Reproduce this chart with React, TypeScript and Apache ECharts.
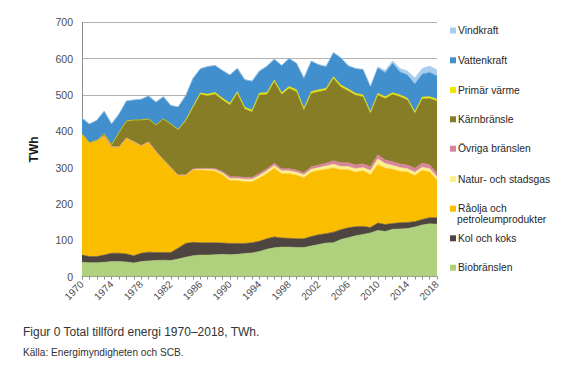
import React, { useEffect, useRef } from "react";
import * as echarts from "echarts";

const years: string[] = [];
for (let y = 1970; y <= 2018; y++) years.push(String(y));

const bioValues = [39,38,38,39,41,41,40,37,41,43,44,45,44,48,53,57,59,59,60,61,60,61,63,65,69,75,79,81,81,80,80,84,88,92,93,102,107,112,116,120,127,124,130,131,132,136,142,145,144];
const kolValues = [20,17,17,20,23,23,22,20,23,24,22,21,22,30,38,37,34,34,33,31,31,30,28,28,28,29,30,25,24,24,24,26,27,26,29,27,27,25,22,15,20,19,16,17,17,15,15,17,18];
const oljaValues = [333,313,319,328,293,292,319,314,296,303,278,255,234,201,188,199,200,199,197,188,173,173,170,168,174,179,189,177,178,175,168,177,177,177,177,165,160,150,153,145,161,155,149,141,139,127,135,126,104];
const gasValues = [0,0,0,0,0,0,0,0,0,0,0,0,0,0,0,1,2,3,4,5,6,6,7,7,7,8,8,8,8,8,8,8,8,9,10,9,9,10,9,12,16,13,11,11,9,9,9,9,8];
const ovrigaValues = [0,0,0,0,0,0,0,0,0,0,0,0,0,0,0,2,3,3,3,4,5,5,5,5,6,6,6,6,6,6,6,7,7,8,10,10,10,10,10,10,11,10,10,10,10,11,11,11,10];
const karnValues = [0,0,0,6,6,40,47,60,71,64,73,113,120,125,149,169,203,199,205,197,197,229,188,180,216,204,224,204,221,216,172,202,202,201,226,209,198,192,185,147,164,169,185,185,179,151,177,182,199];
const varmeValues = [0,0,0,0,0,0,0,0,0,0,0,0,0,1,2,3,4,5,5,5,5,5,5,5,5,5,5,5,5,5,5,5,5,5,5,5,5,5,5,5,5,5,5,5,5,5,5,5,5];
const vattenValues = [44,52,56,62,57,51,55,55,57,63,63,61,51,62,67,77,67,76,74,76,78,64,76,80,61,73,57,75,77,73,83,84,69,60,66,75,64,68,69,68,70,66,81,63,64,76,63,67,64];
const vindValues = [0,0,0,0,0,0,0,0,0,0,0,0,0,0,0,0,0,0,0,0,0,0,0,0,0,0,0,0.2,0.3,0.4,0.5,0.5,0.6,0.6,0.9,0.9,1,1.4,2,2.5,3.5,6.1,7.2,9.8,11.2,16.3,15.5,17.6,16.6];

const yTicks = [0, 100, 200, 300, 400, 500, 600, 700];

const seriesDefs = [
  { name: "Biobränslen", data: bioValues, color: "#afd07c" },
  { name: "Kol och koks", data: kolValues, color: "#4e4540" },
  { name: "Råolja och petroleumprodukter", data: oljaValues, color: "#fbbd00" },
  { name: "Natur- och stadsgas", data: gasValues, color: "#fcef8e" },
  { name: "Övriga bränslen", data: ovrigaValues, color: "#d9849f" },
  { name: "Kärnbränsle", data: karnValues, color: "#867d26" },
  { name: "Primär värme", data: varmeValues, color: "#eee600" },
  { name: "Vattenkraft", data: vattenValues, color: "#4190cd" },
  { name: "Vindkraft", data: vindValues, color: "#a9cdee" },
];

const legendCenters: Record<string, number> = {
  "Vindkraft": 30.5,
  "Vattenkraft": 60.3,
  "Primär värme": 90,
  "Kärnbränsle": 119.3,
  "Övriga bränslen": 148.7,
  "Natur- och stadsgas": 179,
  "Råolja och petroleumprodukter": 208.7,
  "Kol och koks": 238.3,
  "Biobränslen": 267.7,
};

const FONT = "'Liberation Sans', Arial, Helvetica, sans-serif";

export default function App() {
  const ref = useRef<HTMLDivElement>(null);
  useEffect(() => {
    document.body.style.margin = "0";
    if (!ref.current) return;
    const chart = echarts.init(ref.current, undefined, { renderer: "svg" });
    const legends = seriesDefs.map((s) => ({
      data: [s.name],
      orient: "vertical" as const,
      left: 450,
      top: legendCenters[s.name] - 6.5,
      padding: 0,
      itemWidth: 6,
      itemHeight: 6,
      icon: "rect",
      selectedMode: false,
      formatter: (n: string) => (n === "Råolja och petroleumprodukter" ? "Råolja och" : n),
      textStyle: {
        fontFamily: FONT,
        fontSize: 10.3,
        color: "#262626",
        lineHeight: 13,
        padding: [0, 0, 0, -3],
      },
    }));
    chart.setOption({
      animation: false,
      backgroundColor: "#ffffff",
      textStyle: { fontFamily: FONT },
      grid: { left: 82, top: 22.3, right: 134, bottom: 89.5, containLabel: false },
      legend: legends,
      xAxis: {
        type: "category",
        data: years,
        boundaryGap: false,
        axisLine: { show: true, lineStyle: { color: "#8c8c8c", width: 1 } },
        axisTick: { show: true, interval: 0, length: 3, lineStyle: { color: "#8c8c8c" } },
        axisLabel: {
          interval: 3,
          rotate: 45,
          fontFamily: FONT,
          fontSize: 10,
          color: "#4d4d4d",
          margin: 6,
        },
        splitLine: { show: false },
      },
      yAxis: {
        type: "value",
        min: yTicks[0],
        max: yTicks[yTicks.length - 1],
        interval: 100,
        name: "TWh",
        nameLocation: "middle",
        nameGap: 42,
        nameRotate: 90,
        nameTextStyle: { fontFamily: FONT, fontSize: 12, fontWeight: "bold", color: "#1a1a1a" },
        axisLine: { show: true, lineStyle: { color: "#8c8c8c", width: 1 } },
        axisTick: { show: false },
        axisLabel: { fontFamily: FONT, fontSize: 10.5, color: "#4d4d4d", margin: 9 },
        splitLine: { show: true, lineStyle: { color: "#b3b3b3", width: 1 } },
      },
      series: seriesDefs.map((s) => ({
        name: s.name,
        type: "line",
        stack: "total",
        data: s.data,
        symbol: "none",
        showSymbol: false,
        smooth: false,
        color: s.color,
        lineStyle: { width: 0.6, color: s.color },
        areaStyle: { color: s.color, opacity: 1 },
        emphasis: { disabled: true },
      })),
      graphic: [
        {
          type: "text",
          left: 457,
          top: 214,
          style: { text: "petroleumprodukter", fontFamily: FONT, fontSize: 10.3, fill: "#262626" },
        },
        {
          type: "text",
          left: 23,
          top: 326,
          style: {
            text: "Figur 0 Total tillförd energi 1970–2018, TWh.",
            fontFamily: FONT,
            fontSize: 12,
            fill: "#333333",
          },
        },
        {
          type: "text",
          left: 23,
          top: 347,
          style: { text: "Källa: Energimyndigheten och SCB.", fontFamily: FONT, fontSize: 10.1, fill: "#333333" },
        },
      ],
    });
    return () => chart.dispose();
  }, []);
  return <div ref={ref} style={{ position: "absolute", left: 0, top: 0, width: 571, height: 366 }} />;
}
